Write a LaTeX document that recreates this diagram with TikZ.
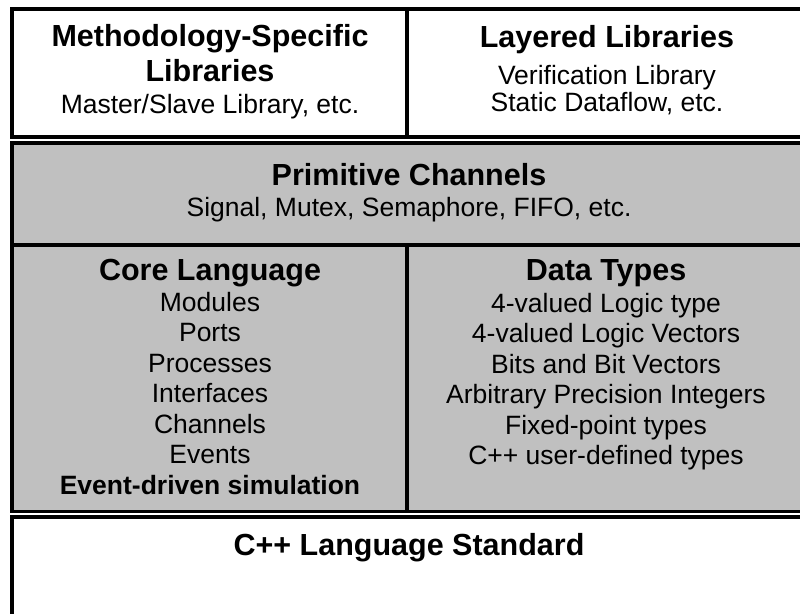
\documentclass[tikz,border=0pt]{standalone}
\usepackage{fontspec}
\setmainfont{Liberation Sans}
\definecolor{layergray}{RGB}{192,192,192}

\begin{document}
\begin{tikzpicture}[x=1pt,y=-1pt,
    layer/.style={draw=black,line width=3.6pt},
    head/.style={anchor=base,font=\fontsize{30.5}{35}\selectfont\bfseries},
    item/.style={anchor=base,font=\fontsize{26.5}{31}\selectfont}]
  \useasboundingbox (0,0) rectangle (800,613);
  \clip (0,0) rectangle (800,613);
  % library layer
  \draw[layer] (12,9) rectangle (806,137);
  \draw[layer] (407,9) -- (407,137);
  \node[head] (methlib) at (210,46) {Methodology-Specific};
  \node[head] (methlib2) at (210,81) {Libraries};
  \node[item] (methitem) at (210,113) {Master/Slave Library, etc.};
  \node[head] (laylib) at (607,47) {Layered Libraries};
  \node[item] (layitem1) at (607,84) {Verification Library};
  \node[item] (layitem2) at (607,111) {Static Dataflow, etc.};
  % channels, core language and data types
  \draw[layer,fill=layergray] (12,143) rectangle (806,511.5);
  \draw[layer] (12,245) -- (806,245);
  \draw[layer] (407,245) -- (407,511.5);
  \node[head] (prim) at (409,185) {Primitive Channels};
  \node[item] (primitem) at (409,216) {Signal, Mutex, Semaphore, FIFO, etc.};
  \node[head] (core) at (210,280) {Core Language};
  \foreach \txt [count=\i from 0] in {Modules,Ports,Processes,Interfaces,Channels,Events}
    \node[item] (core\i) at (210,{311+30.5*\i}) {\txt};
  \node[item,font=\fontsize{26.5}{31}\selectfont\bfseries] (coresim) at (210,494) {Event-driven simulation};
  \node[head] (data) at (606,280) {Data Types};
  \foreach \txt [count=\i from 0] in {4-valued Logic type,4-valued Logic Vectors,Bits and Bit Vectors,
      Arbitrary Precision Integers,Fixed-point types,C++ user-defined types}
    \node[item] (data\i) at (606,{312+30.5*\i}) {\txt};
  % c++ base
  \draw[layer] (12,517) rectangle (806,625);
  \node[head] (cpp) at (409,555) {C++ Language Standard};
\end{tikzpicture}
\end{document}
